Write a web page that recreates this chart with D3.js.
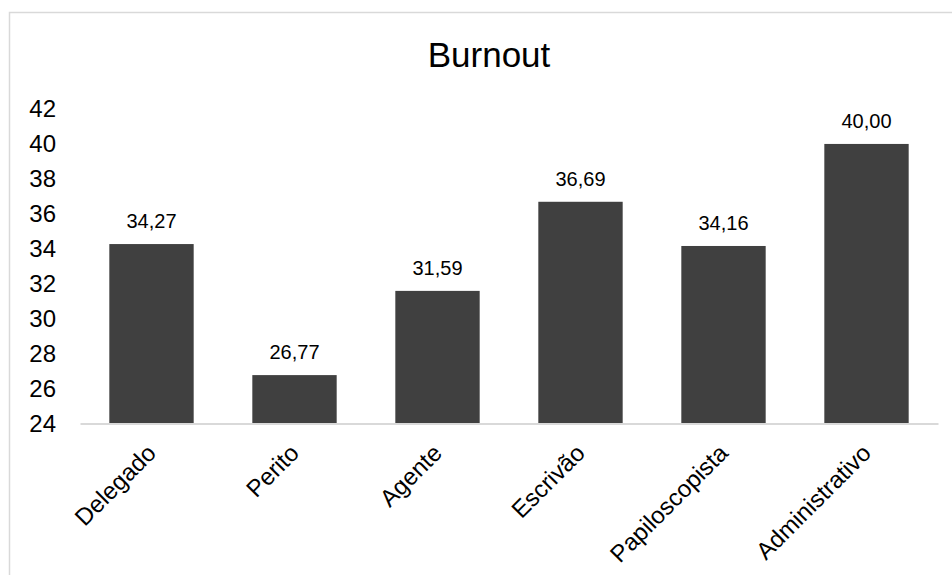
<!DOCTYPE html>
<html>
<head>
<meta charset="utf-8">
<script src="https://cdn.jsdelivr.net/npm/d3@7"></script>
<style>
  html, body { margin: 0; padding: 0; background: #fff; }
  svg { display: block; font-family: "Liberation Sans", Arial, sans-serif; }
</style>
</head>
<body>
<svg id="chart" width="952" height="575"></svg>
<script>
// Burnout score by job role
const categories = ["Delegado", "Perito", "Agente", "Escrivão", "Papiloscopista", "Administrativo"];
const values = [34.27, 26.77, 31.59, 36.69, 34.16, 40.00];
const yTicks = [24, 26, 28, 30, 32, 34, 36, 38, 40, 42];
const title = "Burnout";

const svg = d3.select("#chart");

// outer frame of the chart area
svg.append("rect")
  .attr("x", 9.5).attr("y", 12.5)
  .attr("width", 980).attr("height", 600)
  .attr("fill", "#fff")
  .attr("stroke", "#d9d9d9").attr("stroke-width", 1.5);

const plot = { left: 80, right: 938, top: 109, bottom: 423.5 };

const x = d3.scaleBand()
  .domain(categories)
  .range([plot.left, plot.right])
  .paddingInner(0.41)
  .paddingOuter(0.205);

const y = d3.scaleLinear()
  .domain([24, 42])
  .range([plot.bottom, plot.top]);

// title
svg.append("text")
  .attr("x", 489).attr("y", 67)
  .attr("text-anchor", "middle")
  .attr("font-size", 35)
  .attr("fill", "#000")
  .text(title);

// y axis labels (no axis line)
const yAxis = d3.axisLeft(y).tickValues(yTicks).tickSize(0).tickPadding(0)
  .tickFormat(d3.format("d"));
const gy = svg.append("g").attr("transform", "translate(56,0)").call(yAxis);
gy.select(".domain").remove();
gy.selectAll("text")
  .attr("font-size", 24)
  .attr("font-family", "Liberation Sans, Arial, sans-serif")
  .attr("fill", "#000");

// bars
svg.append("g").selectAll("rect")
  .data(values)
  .join("rect")
  .attr("x", (d, i) => x(categories[i]))
  .attr("y", d => y(d))
  .attr("width", x.bandwidth())
  .attr("height", d => y(24) - y(d))
  .attr("fill", "#404040");

// value labels
const fmt = d => d.toFixed(2).replace(".", ",");
svg.append("g").selectAll("text")
  .data(values)
  .join("text")
  .attr("x", (d, i) => x(categories[i]) + x.bandwidth() / 2)
  .attr("y", d => y(d) - 16)
  .attr("text-anchor", "middle")
  .attr("font-size", 20)
  .attr("fill", "#000")
  .text(fmt);

// x axis with rotated category labels
const xAxis = d3.axisBottom(x).tickSize(0).tickPadding(0);
const gx = svg.append("g").attr("transform", `translate(0,${plot.bottom})`).call(xAxis);
gx.select(".domain")
  .attr("stroke", "#d9d9d9").attr("stroke-width", 2);
gx.selectAll(".tick text")
  .attr("font-size", 24)
  .attr("font-family", "Liberation Sans, Arial, sans-serif")
  .attr("fill", "#000")
  .attr("text-anchor", "end")
  .attr("dy", null)
  .attr("y", null)
  .attr("transform", "translate(6,31) rotate(-45)");
</script>
</body>
</html>
